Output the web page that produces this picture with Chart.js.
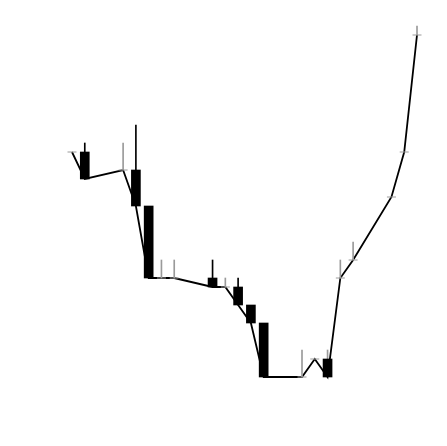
<!DOCTYPE html>
<html>
<head>
<meta charset="utf-8">
<style>
  html, body { margin: 0; padding: 0; background: #fff; }
  #wrap { width: 447px; height: 446px; }
</style>
<script src="https://cdn.jsdelivr.net/npm/chart.js"></script>
</head>
<body>
<div id="wrap"><canvas id="chart" width="447" height="446"></canvas></div>
<script>
// one slot per calendar day, weekends left empty (null)
const days = [
  'D01', 'D02', 'D03', 'D04', 'D05', 'D06', 'D07', 'D08', 'D09', 'D10',
  'D11', 'D12', 'D13', 'D14', 'D15', 'D16', 'D17', 'D18', 'D19', 'D20',
  'D21', 'D22', 'D23', 'D24', 'D25', 'D26', 'D27', 'D28'
];
const opens  = [35, 35, null, null, 32, 33, 29, 21, 21, null, null, 21, 20, 20, 18, 16, null, null, 10, 10, 12, 10, 21, null, null, 23, 30, 35];
const highs  = [35, 36, null, null, 36, 38, 29, 23, 23, null, null, 23, 21, 21, 18, 16, null, null, 13, 12, 13, 23, 25, null, null, 30, 35, 49];
const lows   = [35, 32, null, null, 32, 29, 21, 21, 21, null, null, 20, 20, 18, 16, 10, null, null, 10, 10, 10, 10, 21, null, null, 23, 30, 35];
const closes = [35, 32, null, null, 33, 29, 21, 21, 21, null, null, 20, 20, 18, 16, 10, null, null, 10, 12, 10, 21, 23, null, null, 30, 35, 48];
// shade of each upper shadow: 1 = dark, 0 = grey
const darkWick = [0, 1, 0, 0, 0, 1, 0, 0, 0, 0, 0, 1, 0, 1, 0, 0, 0, 0, 0, 0, 0, 0, 0, 0, 0, 0, 0, 0];

const GREY = '#9a9a9a';
const DARK = '#000';

const isDown = closes.map((c, i) => c !== null && c < opens[i]);

// bodies only for falling days
const bodies = closes.map((c, i) => (isDown[i] ? [c, opens[i]] : null));
// upper shadow from top of the body (or close) to the high
const wicks = closes.map((c, i) => {
  if (c === null) return null;
  const top = isDown[i] ? opens[i] : c;
  return highs[i] > top ? [top, highs[i]] : null;
});
const wickColors = darkWick.map(d => (d ? DARK : GREY));
// close ticks for non-falling days
const ticks = closes.map((c, i) => (c !== null && !isDown[i] ? c : null));

new Chart(document.getElementById('chart'), {
  data: {
    labels: days,
    datasets: [
      {
        type: 'bar',
        data: bodies,
        backgroundColor: DARK,
        borderWidth: 0,
        barThickness: 9,
        grouped: false,
        clip: false,
        order: 1
      },
      {
        type: 'bar',
        data: wicks,
        backgroundColor: wickColors,
        borderWidth: 0,
        barThickness: 1,
        grouped: false,
        clip: false,
        order: 2
      },
      {
        type: 'line',
        data: ticks,
        showLine: false,
        pointStyle: 'line',
        pointRadius: 4.5,
        pointBorderColor: GREY,
        pointBorderWidth: 1,
        clip: false,
        order: 3
      },
      {
        type: 'line',
        data: closes,
        spanGaps: true,
        borderColor: '#000',
        borderWidth: 1.8,
        pointRadius: 0,
        tension: 0,
        clip: false,
        order: 4
      }
    ]
  },
  options: {
    responsive: false,
    animation: false,
    events: [],
    layout: { padding: { left: 72, right: 30, top: 17, bottom: 24 } },
    plugins: { legend: { display: false }, tooltip: { enabled: false } },
    scales: {
      x: { type: 'category', offset: false, display: false },
      y: { min: 5, max: 50, display: false }
    }
  }
});
</script>
</body>
</html>
